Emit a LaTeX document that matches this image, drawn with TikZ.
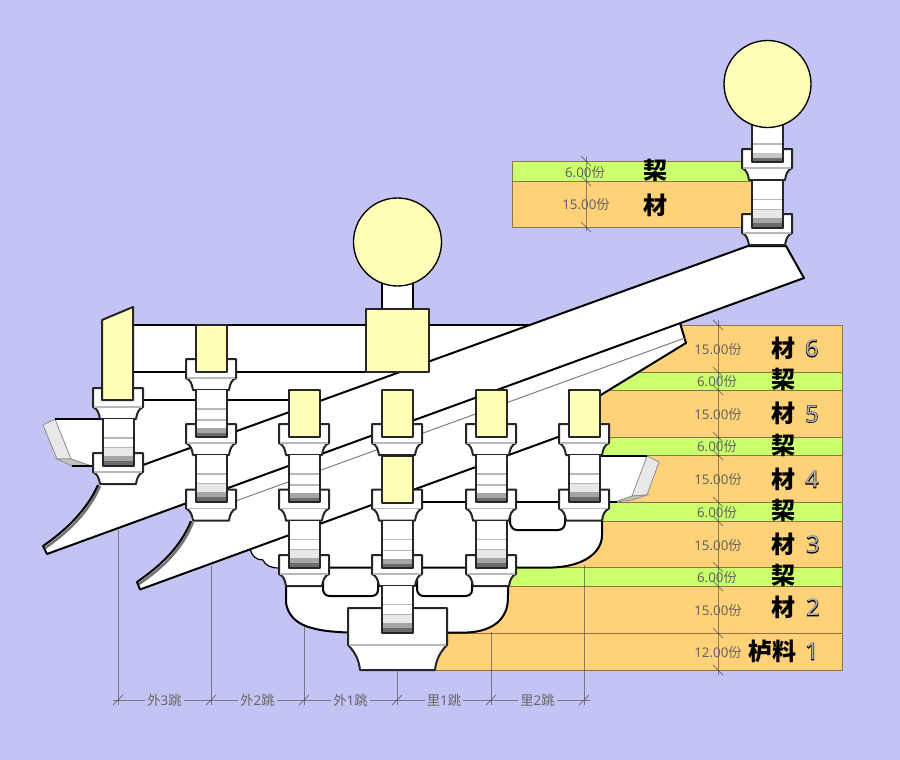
\documentclass[tikz,border=0pt]{standalone}
\usepackage{fontspec}
\setmainfont{Noto Sans}
\newfontfamily\cjk{Noto Sans CJK SC}
\newfontfamily\digB[FakeBold=4.5]{Noto Sans}
\newfontfamily\digR{Noto Sans}
\definecolor{bgc}{RGB}{196,196,244}
\definecolor{orangeb}{RGB}{255,210,122}
\definecolor{greenb}{RGB}{204,255,110}
\definecolor{yel}{RGB}{255,255,184}
\definecolor{txg}{RGB}{100,100,100}
\newcommand{\fen}{{\cjk 份}}
\tikzset{
 x=0.75pt,y=-0.75pt,
 outl/.style={draw=black,line width=1.5pt,line join=round},
 thinb/.style={draw=black,line width=0.9pt},
 douline/.style={draw=black!85,line width=1.5pt,line join=round,fill=white},
 glight/.style={draw=black!28,line width=1.1pt},
 band/.style={draw=black!45!orangeb,line width=0.75pt},
 ora/.style={band,fill=orangeb},
 gre/.style={band,fill=greenb},
 yelbox/.style={fill=yel,draw=black!85,line width=1.5pt,line join=round},
 dimln/.style={draw=black!70,opacity=0.65,line width=0.75pt},
 vallab/.style={text=txg,font=\fontsize{10pt}{11pt}\selectfont},
 biglab/.style={text=black,font=\fontsize{18pt}{20pt}\selectfont\cjk\bfseries},
 spanlab/.style={text=txg,fill=bgc,inner sep=1.5pt,font=\fontsize{10pt}{11pt}\selectfont}
}
\newcommand{\dou}[2]{\begin{scope}[shift={(#1,#2)}]
 \path[douline] (-25,0) -- (25,0) -- (25,19) .. controls (20.5,21) and (19,25) .. (18,31) -- (-18,31) .. controls (-19,25) and (-20.5,21) .. (-25,19) -- cycle;
 \draw[glight] (-24,19) -- (24,19);
\end{scope}}
\newcommand{\stemA}[2]{\begin{scope}[shift={(#1,#2)}]
 \fill[white] (-15.5,0) rectangle (15.5,47);
 \draw[glight] (-15,19) -- (15,19) (-15,30) -- (15,30);
 \fill[black!35] (-15.5,38) rectangle (15.5,43);
 \fill[black!58] (-15.5,43) rectangle (15.5,47);
 \draw[douline,fill=none] (-15.5,0) -- (-15.5,47) -- (15.5,47) -- (15.5,0);
\end{scope}}
\newcommand{\stemB}[2]{\begin{scope}[shift={(#1,#2)}]
 \fill[white] (-15.5,0) rectangle (15.5,47);
 \draw[glight] (-15,19) -- (15,19) (-15,29) -- (15,29);
 \fill[black!9] (-15.5,29) rectangle (15.5,37);
 \fill[black!35] (-15.5,37) rectangle (15.5,42);
 \fill[black!58] (-15.5,42) rectangle (15.5,47);
 \draw[douline,fill=none] (-15.5,0) -- (-15.5,47) -- (15.5,47) -- (15.5,0);
\end{scope}}
\newcommand{\yelb}[2]{\begin{scope}[shift={(#1,#2)}]
 \path[yelbox] (-15.5,0) rectangle (15.5,47);
\end{scope}}
\begin{document}
\begin{tikzpicture}
\fill[bgc] (0,0) rectangle (900,760);
\useasboundingbox (0,0) rectangle (900,760);
% ---- bands
\path[ora] (640,325) rectangle (842,372);
\path[gre] (605,372) rectangle (842,390);
\path[ora] (590,390) rectangle (842,437);
\path[gre] (590,437) rectangle (842,455);
\path[ora] (590,455) rectangle (842,502);
\path[gre] (570,502) rectangle (842,521);
\path[ora] (520,521) rectangle (842,567);
\path[gre] (500,567) rectangle (842,586);
\path[ora] (450,586) rectangle (842,633);
\path[ora] (430,633) rectangle (842,670);
\path[gre] (512.5,161) rectangle (760,181);
\path[ora] (512.5,181) rectangle (760,227);
% ---- beams, white mass
\fill[white] (133,325) -- (530,325) -- (143,465) -- (133,465) -- cycle;
\draw[outl] (133,325) -- (530,325);
\draw[outl] (133,372) -- (366,372);
\draw[outl] (133,400) -- (304,400);
% left tail
\fill[white] (55,419) -- (102,419) -- (102,466) -- (72,466) -- (57,459) -- (43,425) -- cycle;
\path[fill=black!9,draw=black!45,line width=0.6pt] (43,425) -- (55,419) -- (71,459) -- (57,459) -- cycle;
\path[fill=black!24,draw=black!45,line width=0.6pt] (57,459) -- (71,459) -- (92,466) -- (72,466) -- cycle;
\draw[outl] (55,419) -- (102,419) (72,466) -- (96,466);
% right tail
\fill[white] (590,455) -- (647,456) -- (659,462) -- (647,495) -- (632,497) -- (617,502) -- (590,502) -- cycle;
\path[fill=black!9,draw=black!45,line width=0.6pt] (647,456) -- (659,462) -- (647,495) -- (632,496) -- cycle;
\path[fill=black!24,draw=black!45,line width=0.6pt] (632,496) -- (647,495) -- (632,500) -- (615,502) -- cycle;
\draw[outl] (590,455.5) -- (647,455.5) (600,502) -- (617,502);
% stage 1 mass
\fill[white] (286,568) -- (286,603) .. controls (288,615) and (296,624) .. (312,628) .. controls (322,631) and (335,632) .. (348,632.5) -- (467,632.5) .. controls (480,632) and (493,628) .. (500,620) .. controls (506,613) and (508,607) .. (508,595) -- (508,568) -- cycle;
\draw[outl] (286,570) -- (286,603) .. controls (288,615) and (296,624) .. (312,628) .. controls (322,631) and (335,632) .. (348,632.5) -- (467,632.5) .. controls (480,632) and (493,628) .. (500,620) .. controls (506,613) and (508,607) .. (508,595) -- (508,570);
% stage 2 mass (under the lower slanted member)
\path[fill=white] (250,549) .. controls (252,556) and (256,560) .. (263,560) .. controls (265,565) and (270,568) .. (279,568) -- (553,567) .. controls (585,566) and (602,552) .. (602,535) -- (602,490) -- (584,490) -- (569,433) -- cycle;
\draw[thinb] (250,549) .. controls (252,556) and (256,560) .. (263,560) .. controls (265,565) and (270,568) .. (279,568);
\draw[outl] (279,567.5) -- (553,567.5) .. controls (585,566) and (602,552) .. (602,535) -- (602,515);
% holes
\draw[outl] (323,580) -- (323,590) .. controls (324,594) and (326,596) .. (330,596) -- (371,596) .. controls (375,596) and (378,594) .. (378,590) -- (378,580);
\draw[outl] (417,580) -- (417,590) .. controls (418,594) and (420,596) .. (424,596) -- (465,596) .. controls (469,596) and (472,594) .. (472,590) -- (472,580);
\draw[outl] (510,515) -- (510,523) .. controls (511,527) and (513,530) .. (517,530) -- (558,530) .. controls (562,530) and (565,527) .. (565,523) -- (565,515);
\draw[outl] (397,502) -- (584,502);
% lower slanted member
\path[fill=white] (191,521) .. controls (180,548) and (160,566) .. (137,582) -- (140,589.5) -- (569,433) -- (600,395) -- (686,343) -- (680,323) -- (191,500) -- cycle;
\draw[black!55,line width=1.9pt] (193,522) .. controls (182,550) and (162,568) .. (139,584);
\draw[outl] (191,521) .. controls (180,548) and (160,566) .. (137,582) -- (140,589.5) -- (569,433);
\draw[outl] (600,395.5) -- (686,343) -- (680,323);
\draw[black!50,line width=0.75pt] (211,510) -- (685,338);
% upper slanted member
\path[fill=white] (98,485) .. controls (87,510) and (65,531) .. (43,546) -- (47,554) -- (804,278) -- (786,246) -- (748,246) -- (143,465) -- (118,472) -- cycle;
\draw[black!55,line width=1.9pt] (100,486) .. controls (89,512) and (67,533) .. (45,548);
\draw[outl] (98,485) .. controls (87,510) and (65,531) .. (43,546) -- (47,554) -- (804,278) -- (786,246) -- (748,246) -- (143,465);
% ---- blocks: column 118
\dou{118}{388}\dou{118}{453}
\stemB{118}{419}
\path[yelbox] (102,320) -- (133,307) -- (133,400) -- (102,400) -- cycle;
% column 211
\dou{211}{359}\dou{211}{424}\dou{211}{489.5}
\stemA{211}{390}\stemB{211}{455}
\yelb{211}{325}
% column 304
\dou{304}{424}\dou{304}{489.5}\dou{304}{555}
\stemA{304}{455}\stemB{304}{520.5}
\yelb{304}{390}
% column 397
\path[douline] (348,608) -- (447,608) -- (447,645) .. controls (440,652) and (436,660) .. (435,670) -- (360,670) .. controls (359,660) and (355,652) .. (348,645) -- cycle;
\draw[glight] (349,645) -- (446,645);
\dou{397}{424}\dou{397}{489.5}\dou{397}{555}
\stemA{397}{520.5}\stemB{397}{585.5}
\yelb{397}{390}\yelb{397}{455.5}
% column 491
\dou{491}{424}\dou{491}{489.5}\dou{491}{555}
\stemA{491}{455}\stemB{491}{520.5}
\yelb{491}{390}
% column 584
\dou{584}{424}\dou{584}{489.5}
\stemB{584}{455}
\yelb{584}{390}
% top column 767
\dou{767}{149}\dou{767}{214}
\stemB{767.5}{180.5}
\fill[white] (752,115) rectangle (783,162);
\draw[glight] (752,144) -- (783,144);
\fill[black!22] (752,153) rectangle (783,158);
\fill[black!58] (752,158) rectangle (783,162);
\draw[douline,fill=none] (752,115) -- (752,162) -- (783,162) -- (783,115);
\path[fill=yel,draw=black,line width=1pt] (767.5,84) circle [radius=43.5];
% middle post and ball
\fill[white] (382,270) rectangle (413,309);
\draw[outl] (382,270) -- (382,309) (413,270) -- (413,309);
\path[fill=yel,draw=black,line width=1pt] (397.5,242) circle [radius=44];
\path[yelbox] (366,309) rectangle (429,372);
% ---- dimension lines, right
\draw[dimln] (718,320) -- (718,675);
\foreach \yy in {325,372,390,437,455,502,521,567,586,633,670}
  \draw[dimln] (713,\yy-5) -- (723,\yy+5);
\draw[dimln] (586,157) -- (586,231);
\foreach \yy in {161,181,227}
  \draw[dimln] (581,\yy-5) -- (591,\yy+5);
% ---- dimension lines, bottom
\draw[dimln] (118,530) -- (118,705);
\draw[dimln] (211,566) -- (211,705);
\draw[dimln] (304,626) -- (304,705);
\draw[dimln] (397,670) -- (397,705);
\draw[dimln] (491,632) -- (491,705);
\draw[dimln] (584,565) -- (584,705);
\draw[dimln] (113,700) -- (590,700);
\foreach \xx in {118,211,304,397,491,584}
  \draw[dimln] (\xx-5,705) -- (\xx+5,695);
\node[spanlab] (s1) at (164.5,700) {{\cjk 外}3{\cjk 跳}};
\node[spanlab] (s2) at (257.5,700) {{\cjk 外}2{\cjk 跳}};
\node[spanlab] (s3) at (350.5,700) {{\cjk 外}1{\cjk 跳}};
\node[spanlab] (s4) at (444,700) {{\cjk 里}1{\cjk 跳}};
\node[spanlab] (s5) at (537.5,700) {{\cjk 里}2{\cjk 跳}};
% ---- value labels
\node[vallab] (v1) at (718,349) {15.00\fen};
\node[vallab] (v2) at (717,381) {6.00\fen};
\node[vallab] (v3) at (718,414) {15.00\fen};
\node[vallab] (v4) at (717,446.5) {6.00\fen};
\node[vallab] (v5) at (718,479.5) {15.00\fen};
\node[vallab] (v6) at (717,512) {6.00\fen};
\node[vallab] (v7) at (718,545) {15.00\fen};
\node[vallab] (v8) at (717,577.5) {6.00\fen};
\node[vallab] (v9) at (718,610) {15.00\fen};
\node[vallab] (v10) at (718,652) {12.00\fen};
\node[vallab] (v11) at (585,172) {6.00\fen};
\node[vallab] (v12) at (586,204.5) {15.00\fen};
% ---- large labels
\node[biglab] (b1) at (783,348) {材};
\node[biglab] (b2) at (783,379) {栔};
\node[biglab] (b3) at (783,413) {材};
\node[biglab] (b4) at (783,445) {栔};
\node[biglab] (b5) at (783,479) {材};
\node[biglab] (b6) at (783,510) {栔};
\node[biglab] (b7) at (783,544) {材};
\node[biglab] (b8) at (783,575) {栔};
\node[biglab] (b9) at (783,607) {材};
\node[biglab] (b10) at (772,651) {栌料};
\node[biglab] (b11) at (655,170) {栔};
\node[biglab] (b12) at (655,205) {材};
\foreach \dg/\px/\py in {6/811.7/348.5,5/812/414,4/812/479.5,3/813/544.5,2/813/607.5,1/812/651.5}{
 \node[text=black,font=\fontsize{17.5pt}{20pt}\selectfont\digB] (d\dg) at (\px,\py) {\dg};
 \node[text=black!30,font=\fontsize{17.5pt}{20pt}\selectfont\digR] (e\dg) at (\px,\py) {\dg};
}
\end{tikzpicture}
\end{document}
